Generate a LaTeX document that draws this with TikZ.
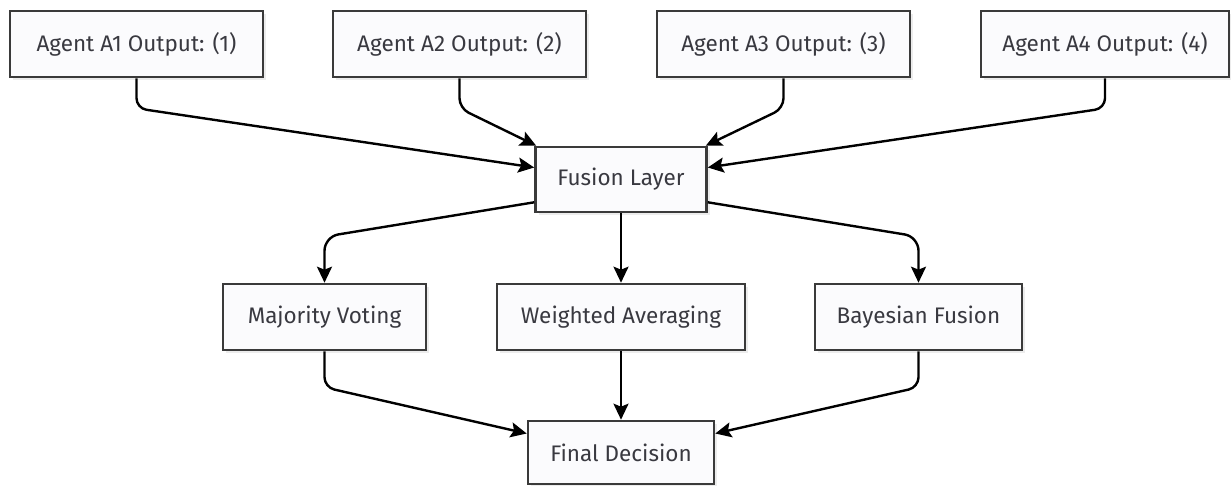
\documentclass[tikz,border=0pt]{standalone}
\usepackage{fontspec}
\setmainfont{Fira Sans}
\usetikzlibrary{arrows.meta,calc,shadows}
\definecolor{boxline}{HTML}{3A3A3A}
\definecolor{boxfill}{HTML}{FBFBFD}
\definecolor{txt}{HTML}{393940}
\tikzset{
  box/.style={draw=boxline, line width=2.6pt, fill=boxfill, text=txt,
    minimum height=66pt, inner sep=0pt, font=\fontsize{22.5}{26}\selectfont,
    drop shadow={shadow xshift=3pt, shadow yshift=-3pt, fill=black!12, opacity=0.6}},
  arr/.style={line width=2.4pt, draw=black, -{Stealth[length=16pt,width=15pt,inset=3pt]}}
}
\begin{document}
\begin{tikzpicture}[x=1pt,y=-1pt]
\useasboundingbox[fill=white] (0,0) rectangle (1231,486);
\node[box, minimum width=253pt] (A1) at (136.5,44) {Agent A1 Output: (1)};
\node[box, minimum width=253pt] (A2) at (459.5,44) {Agent A2 Output: (2)};
\node[box, minimum width=253pt] (A3) at (783.5,44) {Agent A3 Output: (3)};
\node[box, minimum width=248pt] (A4) at (1105,44) {Agent A4 Output: (4)};
\node[box, minimum width=171pt, minimum height=65pt] (F) at (621,179.5) {Fusion Layer};
\node[box, minimum width=203pt] (M) at (324.5,317) {Majority Voting};
\node[box, minimum width=248pt] (W) at (621,317) {Weighted Averaging};
\node[box, minimum width=207pt] (B) at (918.5,317) {Bayesian Fusion};
\node[box, minimum width=186pt, minimum height=63pt] (D) at (621,452.5) {Final Decision};

\draw[arr, rounded corners=10pt] (A1.south) -- ++(0,30) -- ([yshift=12pt]F.west);
\draw[arr, rounded corners=10pt] (A2.south) -- ++(0,30) -- ([xshift=2pt]F.north west);
\draw[arr, rounded corners=10pt] (A3.south) -- ++(0,30) -- ([xshift=-2pt]F.north east);
\draw[arr, rounded corners=10pt] (A4.south) -- ++(0,30) -- ([yshift=12pt]F.east);

\draw[arr, rounded corners=14pt] ([yshift=11pt]F.south west) -- ($(M.north)+(0,-46)$) -- (M.north);
\draw[arr] (F.south) -- (W.north);
\draw[arr, rounded corners=14pt] ([yshift=11pt]F.south east) -- ($(B.north)+(0,-46)$) -- (B.north);

\draw[arr, rounded corners=10pt] (M.south) -- ++(0,36) -- ([yshift=19pt]D.west);
\draw[arr] (W.south) -- (D.north);
\draw[arr, rounded corners=10pt] (B.south) -- ++(0,36) -- ([yshift=19pt]D.east);
\end{tikzpicture}
\end{document}
